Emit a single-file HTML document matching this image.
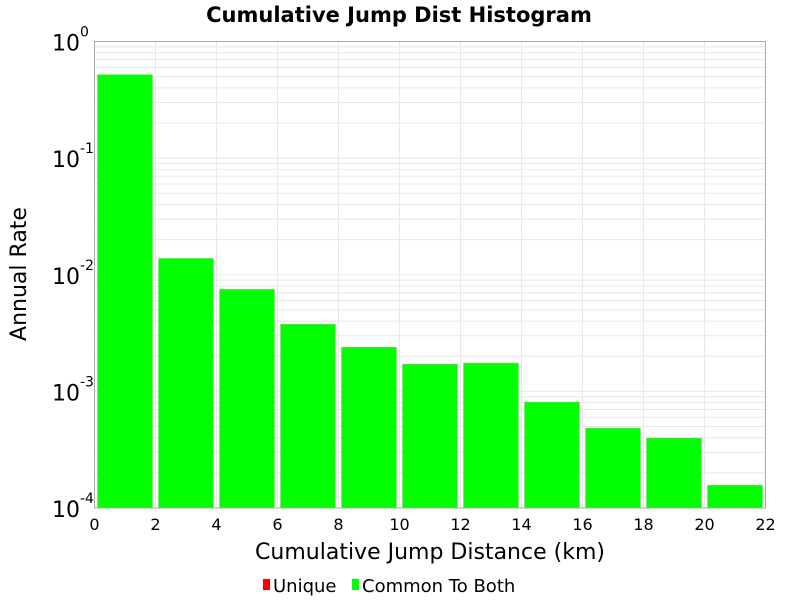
<!DOCTYPE html>
<html><head><meta charset="utf-8"><style>
body{margin:0;background:#fff;width:800px;height:600px;overflow:hidden;font-family:"DejaVu Sans","Liberation Sans",sans-serif;}
</style></head><body>
<svg id="chart" width="800" height="600" xmlns="http://www.w3.org/2000/svg"></svg>
<script>
const binStarts=[0,2,4,6,8,10,12,14,16,18,20];
const binWidth=2;
const rates=[0.52,0.0138,0.0075,0.00377,0.00239,0.00171,0.00175,0.00081,0.000484,0.000398,0.000157];
const xTicks=[0,2,4,6,8,10,12,14,16,18,20,22];
const yDecades=[-4,-3,-2,-1,0];

const svg=document.getElementById('chart');
const NS='http://www.w3.org/2000/svg';
const L=94.5,R=765.5,T=41.5,B=508;
const xMin=0,xMax=22,yMinE=-4,yMaxE=0;
function X(v){return L+(v-xMin)/(xMax-xMin)*(R-L);}
function Y(v){return B-(Math.log10(v)-yMinE)/(yMaxE-yMinE)*(B-T);}
function el(tag,attrs,text){const e=document.createElementNS(NS,tag);for(const k in attrs)e.setAttribute(k,attrs[k]);if(text!==undefined)e.textContent=text;svg.appendChild(e);return e;}

// grid
for(let d=yMinE;d<yMaxE;d++){for(let m=1;m<10;m++){const y=Y(m*Math.pow(10,d));
const g=el('line',{x1:L,x2:R,y1:y,y2:y,stroke:'#e8e8e8','stroke-width':1});

}}
xTicks.forEach(t=>{const x=X(t);
const g=el('line',{x1:x,x2:x,y1:T,y2:B,stroke:'#e8e8e8','stroke-width':1});

});

// bars
binStarts.forEach((s,i)=>{const x0=X(s)+3,x1=X(s+binWidth)-3,y=Y(rates[i]);
const b=el('rect',{x:x0,y:y,width:x1-x0,height:B-y,fill:'#00ff00',stroke:'#a0c080','stroke-width':0.5});

});

// frame
const f=el('rect',{x:L,y:T,width:R-L,height:B-T,fill:'none',stroke:'#aaaaaa','stroke-width':1});



// x ticks
xTicks.forEach(t=>{const tx=el('text',{x:X(t),y:530,'text-anchor':'middle','font-size':16,fill:'#000'},String(t));

});
// y ticks
yDecades.forEach(d=>{const y=Y(Math.pow(10,d));
const tx=el('text',{x:80,y:y+9,'text-anchor':'end','font-size':22,fill:'#000'},'10');


const sup=el('text',{x:80,y:y-5,'text-anchor':'start','font-size':14,fill:'#000'},String(d));

});

const title=el('text',{x:399,y:22,'text-anchor':'middle','font-size':21,'font-weight':'bold',fill:'#000'},'Cumulative Jump Dist Histogram');


const xt=el('text',{x:430,y:559,'text-anchor':'middle','font-size':22,fill:'#000'},'Cumulative Jump Distance (km)');


const yt=el('text',{x:0,y:0,'text-anchor':'middle','font-size':22,fill:'#000',transform:'translate(26,274) rotate(-90)'},'Annual Rate');



// legend
const l1=el('rect',{x:263,y:579,width:7,height:11,fill:'#ff0000'});


const lt1=el('text',{x:273,y:592,'font-size':18,fill:'#000'},'Unique');


const l2=el('rect',{x:352,y:579,width:7,height:11,fill:'#00ff00'});


const lt2=el('text',{x:362,y:592,'font-size':18,fill:'#000'},'Common To Both');


</script>
</body></html>
